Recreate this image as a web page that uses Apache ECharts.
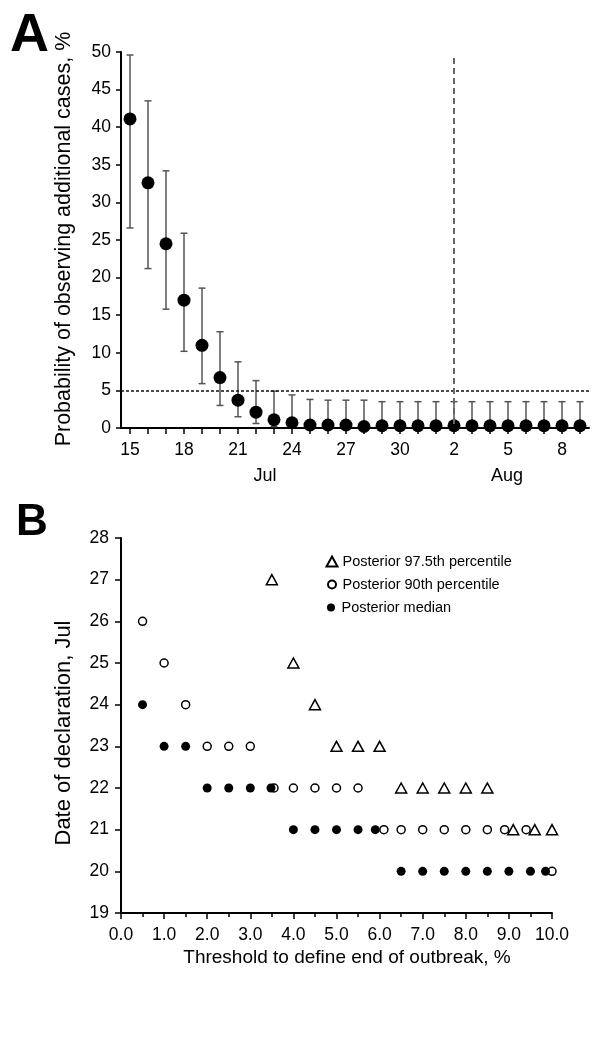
<!DOCTYPE html>
<html>
<head>
<meta charset="utf-8">
<script src="https://cdn.jsdelivr.net/npm/echarts@6/dist/echarts.min.js"></script>
<style>
html,body{margin:0;padding:0;background:#fff;}
#chart{width:600px;height:1041px;}
</style>
</head>
<body>
<div id="chart"></div>
<script>
// ---------- Panel A data ----------
const days = ['15','16','17','18','19','20','21','22','23','24','25','26','27','28','29','30','31',
              '1','2','3','4','5','6','7','8','9'];
const probMedian = [41.1, 32.6, 24.5, 17.0, 11.0, 6.7, 3.7, 2.1, 1.1, 0.7, 0.4, 0.4, 0.4, 0.2, 0.3, 0.3,
                    0.3, 0.3, 0.3, 0.3, 0.3, 0.3, 0.3, 0.3, 0.3, 0.3];
const probUpper  = [49.6, 43.5, 34.2, 25.9, 18.6, 12.8, 8.8, 6.3, 4.9, 4.4, 3.8, 3.7, 3.7, 3.7, 3.5, 3.5,
                    3.5, 3.5, 3.5, 3.5, 3.5, 3.5, 3.5, 3.5, 3.5, 3.5];
const probLower  = [26.6, 21.2, 15.8, 10.2, 5.9, 3.0, 1.5, 0.6, 0.2, 0.2, 0.2, 0.2, 0.2, 0.1, 0.1, 0.1,
                    0.1, 0.1, 0.1, 0.1, 0.1, 0.1, 0.1, 0.1, 0.1, 0.1];
const yTicksA = {min: 0, max: 50, interval: 5};
const thresholdLine = 5;
const declarationDay = '2';

// ---------- Panel B data ----------
const p975 = [[3.5,27],[4.0,25],[4.5,24],[5.0,23],[5.5,23],[6.0,23],[6.5,22],[7.0,22],[7.5,22],
              [8.0,22],[8.5,22],[9.1,21],[9.6,21],[10.0,21]];
const p90  = [[0.5,26],[1.0,25],[1.5,24],[2.0,23],[2.5,23],[3.0,23],[3.55,22],[4.0,22],[4.5,22],[5.0,22],
              [5.5,22],[6.1,21],[6.5,21],[7.0,21],[7.5,21],[8.0,21],[8.5,21],[8.9,21],[9.4,21],[10.0,20]];
const pMed = [[0.5,24],[1.0,23],[1.5,23],[2.0,22],[2.5,22],[3.0,22],[3.48,22],[4.0,21],[4.5,21],[5.0,21],
              [5.5,21],[5.9,21],[6.5,20],[7.0,20],[7.5,20],[8.0,20],[8.5,20],[9.0,20],[9.5,20],[9.85,20]];
const names = ['Posterior 97.5th percentile', 'Posterior 90th percentile', 'Posterior median'];

const FONT = '"Liberation Sans", Arial, sans-serif';
const chart = echarts.init(document.getElementById('chart'), null, {renderer: 'canvas'});

const axisLine = {show: true, lineStyle: {color: '#000', width: 2}};
const labelStyle = {color: '#000', fontSize: 17.5, fontFamily: FONT};

const errData = days.map((d, i) => [i, probLower[i], probUpper[i]]);

const option = {
  backgroundColor: '#fff',
  animation: false,
  grid: [
    {left: 121, top: 52, width: 468, height: 376},
    {left: 121, top: 538, width: 431, height: 375}
  ],
  xAxis: [
    {
      gridIndex: 0, type: 'category', data: days, boundaryGap: true,
      axisLine: axisLine,
      axisTick: {show: true, alignWithLabel: true, interval: 0, length: 6, lineStyle: {color: '#000', width: 1.5}},
      axisLabel: Object.assign({interval: 2, margin: 13}, labelStyle),
      splitLine: {show: false}
    },
    {
      gridIndex: 1, type: 'value', min: 0, max: 10, interval: 1,
      axisLine: axisLine,
      axisTick: {show: true, length: 6, lineStyle: {color: '#000', width: 1.5}},
      minorTick: {show: true, splitNumber: 2, length: 4, lineStyle: {color: '#000', width: 1.5}},
      axisLabel: Object.assign({margin: 13, formatter: v => v.toFixed(1)}, labelStyle),
      splitLine: {show: false}
    }
  ],
  yAxis: [
    {
      gridIndex: 0, type: 'value', min: yTicksA.min, max: yTicksA.max, interval: yTicksA.interval,
      axisLine: axisLine,
      axisTick: {show: true, length: 5, lineStyle: {color: '#000', width: 1.5}},
      axisLabel: Object.assign({margin: 10}, labelStyle),
      splitLine: {show: false}
    },
    {
      gridIndex: 1, type: 'value', min: 19, max: 28, interval: 1,
      axisLine: axisLine,
      axisTick: {show: true, length: 6, lineStyle: {color: '#000', width: 1.5}},
      axisLabel: Object.assign({margin: 12}, labelStyle),
      splitLine: {show: false}
    }
  ],
  legend: [
    {
      data: [names[0]], orient: 'vertical', left: 320.5, top: 549,
      itemWidth: 11, itemHeight: 10, itemGap: 8,
      textStyle: {color: '#000', fontSize: 14.5, fontFamily: FONT, padding: [0,0,0,0]}
    },
    {
      data: [names[1]], orient: 'vertical', left: 322, top: 572,
      itemWidth: 8, itemHeight: 8, itemGap: 8,
      textStyle: {color: '#000', fontSize: 14.5, fontFamily: FONT, padding: [0,0,0,1.5]}
    },
    {
      data: [names[2]], orient: 'vertical', left: 322, top: 595,
      itemWidth: 8, itemHeight: 8, itemGap: 8,
      textStyle: {color: '#000', fontSize: 14.5, fontFamily: FONT, padding: [0,0,0,1.5]}
    }
  ],
  series: [
    {
      type: 'custom', xAxisIndex: 0, yAxisIndex: 0, data: errData, z: 2,
      renderItem: function (params, api) {
        const x = api.value(0);
        const lo = api.coord([x, api.value(1)]);
        const hi = api.coord([x, api.value(2)]);
        const hw = 3.5;
        const st = {stroke: '#555', lineWidth: 1.5, fill: null};
        return {
          type: 'group',
          children: [
            {type: 'line', shape: {x1: hi[0], y1: hi[1], x2: lo[0], y2: lo[1]}, style: st},
            {type: 'line', shape: {x1: hi[0] - hw, y1: hi[1], x2: hi[0] + hw, y2: hi[1]}, style: st},
            {type: 'line', shape: {x1: lo[0] - hw, y1: lo[1], x2: lo[0] + hw, y2: lo[1]}, style: st}
          ]
        };
      }
    },
    {
      type: 'scatter', xAxisIndex: 0, yAxisIndex: 0, data: probMedian, z: 3,
      symbol: 'circle', symbolSize: 13, itemStyle: {color: '#000', opacity: 1},
      markLine: {
        silent: true, symbol: 'none', label: {show: false},
        data: [
          {yAxis: thresholdLine, lineStyle: {color: '#111', width: 1.5, type: [3, 2]}},
          [
            {coord: [declarationDay, 49.2], lineStyle: {color: '#666', width: 2, type: [6, 4]}},
            {coord: [declarationDay, 0]}
          ]
        ]
      }
    },
    {
      name: names[0], type: 'scatter', xAxisIndex: 1, yAxisIndex: 1, data: p975,
      symbol: 'triangle', symbolSize: [11, 10], clip: false,
      itemStyle: {color: '#fff', borderColor: '#000', borderWidth: 1.5, opacity: 1}
    },
    {
      name: names[1], type: 'scatter', xAxisIndex: 1, yAxisIndex: 1, data: p90,
      symbol: 'circle', symbolSize: 8, clip: false,
      itemStyle: {color: '#fff', borderColor: '#000', borderWidth: 1.5, opacity: 1}
    },
    {
      name: names[2], type: 'scatter', xAxisIndex: 1, yAxisIndex: 1, data: pMed,
      symbol: 'circle', symbolSize: 9, clip: false,
      itemStyle: {color: '#000', opacity: 1}
    }
  ],
  graphic: [
    {type: 'text', left: 10, top: 9, style: {text: 'A', font: 'bold 54px ' + FONT, fill: '#000'}},
    {type: 'text', left: 16, top: 501, style: {text: 'B', font: 'bold 44px ' + FONT, fill: '#000'}},
    {type: 'text', x: 64, y: 239, rotation: Math.PI / 2,
     style: {text: 'Probability of observing additional cases, %', font: '21.5px ' + FONT, fill: '#000',
             align: 'center', verticalAlign: 'middle'}},
    {type: 'text', x: 265, y: 476,
     style: {text: 'Jul', font: '18px ' + FONT, fill: '#000', align: 'center', verticalAlign: 'middle'}},
    {type: 'text', x: 507, y: 476,
     style: {text: 'Aug', font: '18px ' + FONT, fill: '#000', align: 'center', verticalAlign: 'middle'}},
    {type: 'text', x: 64, y: 733, rotation: Math.PI / 2,
     style: {text: 'Date of declaration, Jul', font: '22px ' + FONT, fill: '#000',
             align: 'center', verticalAlign: 'middle'}},
    {type: 'text', x: 347, y: 958,
     style: {text: 'Threshold to define end of outbreak, %', font: '19px ' + FONT, fill: '#000',
             align: 'center', verticalAlign: 'middle'}}
  ]
};
chart.setOption(option);
</script>
</body>
</html>
